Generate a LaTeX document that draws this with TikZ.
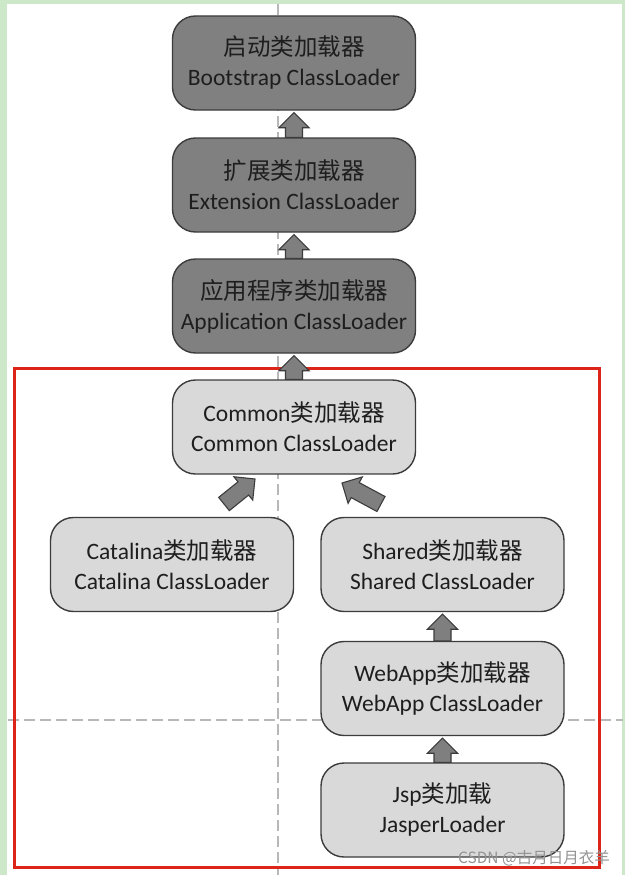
\documentclass[tikz,border=0pt]{standalone}
\usepackage{fontspec}
\setmainfont{Carlito}
\newfontfamily\cjk{Noto Sans CJK SC}
\usetikzlibrary{calc}
\definecolor{darkfill}{HTML}{808080}
\definecolor{lightfill}{HTML}{D9D9D9}
\definecolor{boxline}{HTML}{3C3C3C}
\definecolor{arrowfill}{HTML}{7F7F7F}
\definecolor{guidegray}{HTML}{B8B8B8}
\definecolor{redframe}{HTML}{DC2418}
\definecolor{greenedge}{HTML}{CDE8C8}
\definecolor{textblack}{HTML}{1E1E1E}
\tikzset{
  loaderbox/.style={draw=boxline, line width=1.4pt, rounded corners=23pt,
    minimum width=243pt, minimum height=94pt, align=center, text=textblack,
    font=\fontsize{23.5}{30}\selectfont, inner sep=0pt},
  darkbox/.style={loaderbox, fill=darkfill},
  lightbox/.style={loaderbox, fill=lightfill},
  blockarrow/.style={draw=boxline, fill=arrowfill, line width=1.1pt, line join=miter},
  guide/.style={draw=guidegray, line width=1.3pt, dash pattern=on 11pt off 5pt},
}
\newcommand\barrow[3]{%
  \coordinate (#3h) at ($(#2)!15pt!(#1)$);
  \draw[blockarrow] ($(#1)!8.5pt!90:(#2)$) -- ($(#3h)!8.5pt!-90:(#1)$)
    -- ($(#3h)!15pt!-90:(#1)$) -- (#2) -- ($(#3h)!15pt!90:(#1)$)
    -- ($(#3h)!8.5pt!90:(#1)$) -- ($(#1)!8.5pt!-90:(#2)$) -- cycle;}
\begin{document}
\begin{tikzpicture}[x=1pt,y=-1pt]
\useasboundingbox (0,0) rectangle (625,875);
\fill[greenedge] (0,0) rectangle (625,875);
\fill[white] (7,4) rectangle (622,875);
% guide lines
\draw[guide] (278,4) -- (278,875);
\draw[guide] (8,720) -- (623,720);
% red frame
\draw[redframe, line width=3pt] (14,368) rectangle (599,867);
% boxes
\node[darkbox] (boot) at (294,63) {{\cjk 启动类加载器}\\Bootstrap ClassLoader};
\node[darkbox] (ext) at (294,185) {{\cjk 扩展类加载器}\\Extension ClassLoader};
\node[darkbox] (app) at (294,306) {{\cjk 应用程序类加载器}\\Application ClassLoader};
\node[lightbox] (common) at (294,427) {Common{\cjk 类加载器}\\Common ClassLoader};
\node[lightbox] (catalina) at (172,564.5) {Catalina{\cjk 类加载器}\\Catalina ClassLoader};
\node[lightbox] (shared) at (442.5,564.5) {Shared{\cjk 类加载器}\\Shared ClassLoader};
\node[lightbox] (webapp) at (442.5,688.5) {WebApp{\cjk 类加载器}\\WebApp ClassLoader};
\node[lightbox] (jsp) at (442.5,810) {Jsp{\cjk 类加载}\\JasperLoader};
% arrows
\coordinate (t1) at ($(boot.south)+(0,2)$);
\coordinate (t2) at ($(ext.south)+(0,2)$);
\coordinate (t3) at ($(app.south)+(0,2)$);
\coordinate (t4) at ($(shared.south)+(0,2)$);
\coordinate (t5) at ($(webapp.south)+(0,2)$);
\barrow{ext.north}{t1}{a1}
\barrow{app.north}{t2}{a2}
\barrow{common.north}{t3}{a3}
\barrow{webapp.north}{t4}{a4}
\barrow{jsp.north}{t5}{a5}
\coordinate (ct) at (224,504);
\coordinate (cp) at (255,479);
\coordinate (st) at (381,504);
\coordinate (sp) at (342,483);
\barrow{ct}{cp}{a6}
\barrow{st}{sp}{a7}
% watermark
\node[text=gray!85, font=\cjk\fontsize{15.5}{18}\selectfont, anchor=east, inner sep=0pt] (wm) at (610,858) {CSDN @古月日月衣羊};
\end{tikzpicture}
\end{document}
